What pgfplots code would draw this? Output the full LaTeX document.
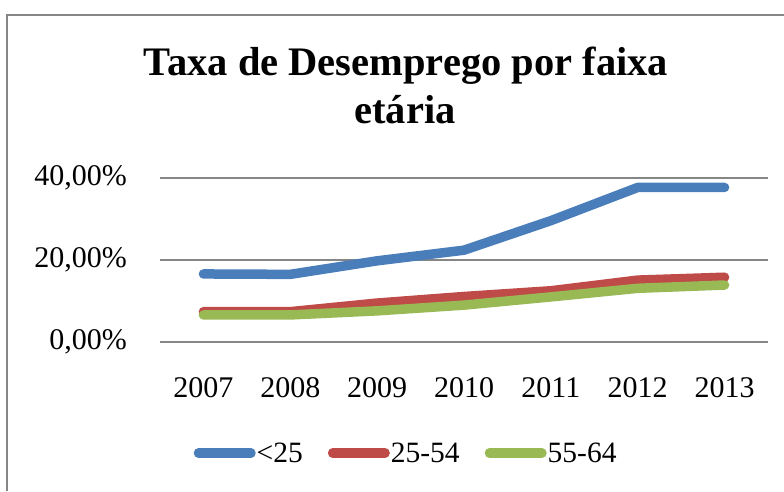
\documentclass[border=0pt]{standalone}
\usepackage{pgfplots}
\pgfplotsset{compat=1.18}
\usepackage{fontspec}
\setmainfont{Liberation Serif}
\definecolor{cblue}{RGB}{74,126,187}
\definecolor{cred}{RGB}{190,75,72}
\definecolor{cgreen}{RGB}{152,185,84}
\definecolor{cgrid}{RGB}{134,134,134}
\begin{document}
\begin{tikzpicture}
\useasboundingbox (0pt,0pt) rectangle (784pt,-491pt);
\draw[cgrid, line width=1.5pt] (7pt,-491pt) -- (7pt,-15pt) -- (784pt,-15pt);
\node[anchor=base, inner sep=0pt, font=\fontsize{40.5}{47}\selectfont\bfseries] at (406pt,-75pt) {Taxa de Desemprego por faixa};
\node[anchor=base, inner sep=0pt, font=\fontsize{40.5}{47}\selectfont\bfseries] at (405pt,-123pt) {etária};
\begin{axis}[
  at={(160pt,-342pt)}, anchor=south west,
  scale only axis, width=608pt, height=164pt,
  xmin=-0.5, xmax=6.5, ymin=0, ymax=40,
  ytick={0,20,40},
  yticklabels={{0,00\%},{20,00\%},{40,00\%}},
  xtick={0,1,2,3,4,5,6},
  xticklabels={2007,2008,2009,2010,2011,2012,2013},
  axis line style={draw=none},
  major tick length=0pt,
  ymajorgrids,
  major grid style={cgrid, line width=1.2pt},
  tick label style={font=\fontsize{30}{34}\selectfont, inner sep=0pt},
  yticklabel style={anchor=east, xshift=-33pt},
  xticklabel style={anchor=north, yshift=-35pt},
  clip=false,
  legend columns=3,
  legend style={at={(0.404,-0.677)}, anchor=center, draw=none, fill=none,
    font=\fontsize{29.5}{34}\selectfont,
    nodes={inner sep=1pt},
    /tikz/every even column/.append style={column sep=24pt}},
  legend image code/.code={\draw[#1, line width=9.5pt, line cap=round] (4.5pt,0pt) -- (57pt,0pt);},
]
\addplot[cblue, line width=9.5pt, line cap=round, line join=round] coordinates {(0,16.6) (1,16.5) (2,19.8) (3,22.4) (4,29.6) (5,37.7) (6,37.7)};
\addlegendentry{<25}
\addplot[cred, line width=9.5pt, line cap=round, line join=round] coordinates {(0,7.4) (1,7.4) (2,9.5) (3,11.1) (4,12.5) (5,15.1) (6,15.8)};
\addlegendentry{25-54}
\addplot[cgreen, line width=9.5pt, line cap=round, line join=round] coordinates {(0,6.6) (1,6.6) (2,7.6) (3,9.0) (4,11.0) (5,13.1) (6,13.9)};
\addlegendentry{55-64}
\end{axis}
\end{tikzpicture}
\end{document}
